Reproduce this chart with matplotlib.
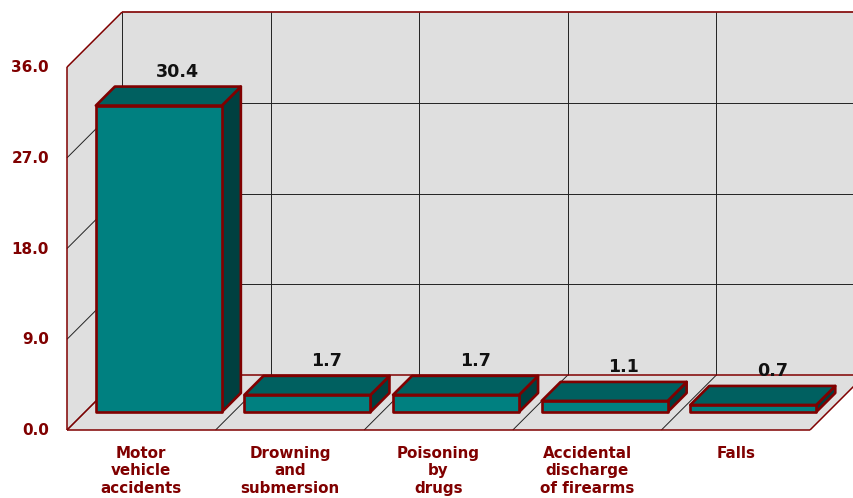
import matplotlib
matplotlib.use("Agg")
import matplotlib.pyplot as plt
from matplotlib.patches import Polygon

categories = ["Motor\nvehicle\naccidents", "Drowning\nand\nsubmersion", "Poisoning\nby\ndrugs",
              "Accidental\ndischarge\nof firearms", "Falls"]
values = [30.4, 1.7, 1.7, 1.1, 0.7]
y_ticks = [0.0, 9.0, 18.0, 27.0, 36.0]

DARK_RED = "#800000"
WALL = "#dfdfdf"

# Pixel size of one category / one value unit, and how far the depth axis shifts things
CAT_PX = 148.6
VAL_PX = 10.08
DEPTH_PX = 55.0

fig = plt.figure(figsize=(8.54, 4.98), dpi=100)
ax = fig.add_axes([0, 0, 1, 1])
ax.set_xlim(-67 / CAT_PX, (854 - 67) / CAT_PX)
ax.set_ylim(-(498 - 430) / VAL_PX, 430 / VAL_PX)
ax.axis("off")


# Oblique projection: category, value, depth (0 front to 1 back) into data coordinates
def proj(c, v, d=0.0):
    return c + d * DEPTH_PX / CAT_PX, v + d * DEPTH_PX / VAL_PX


def face(points, color, edge=DARK_RED, lw=1.0, z=1):
    ax.add_patch(Polygon([proj(*p) for p in points], closed=True, facecolor=color, edgecolor=edge,
                         linewidth=lw, joinstyle="round", zorder=z))


def line(p1, p2, color="#222222", lw=0.7, z=2):
    a, b = proj(*p1), proj(*p2)
    ax.plot([a[0], b[0]], [a[1], b[1]], color=color, linewidth=lw, solid_capstyle="butt", zorder=z)


n = len(categories)
top = y_ticks[-1]

# Walls and floor
face([(0, 0, 1), (n, 0, 1), (n, top, 1), (0, top, 1)], WALL, edge="none")
face([(0, 0, 0), (0, 0, 1), (0, top, 1), (0, top, 0)], WALL, edge="none")
face([(0, 0, 0), (n, 0, 0), (n, 0, 1), (0, 0, 1)], WALL, edge="none")

# Grid on back and side wall
for t in y_ticks[1:-1]:
    line((0, t, 0), (0, t, 1))
    line((0, t, 1), (n, t, 1))
for c in range(n):
    line((c, 0, 0), (c, 0, 1))
    line((c, 0, 1), (c, top, 1))

# Outline of the box
line((0, 0, 0), (0, top, 0), DARK_RED, 1.1)
line((0, top, 0), (0, top, 1), DARK_RED, 1.1)
line((0, top, 1), (n, top, 1), DARK_RED, 1.2)
line((0, 0, 1), (n, 0, 1), DARK_RED, 1.1)
line((0, 0, 0), (n, 0, 0), DARK_RED, 1.1)
line((n, 0, 0), (n, 0, 1), DARK_RED, 1.1)
line((0, 0, 0), (0, 0, 1), DARK_RED, 1.1)

# Bars
bar_w = 126 / CAT_PX
d0, d1 = 18 / DEPTH_PX, 37 / DEPTH_PX
for i, v in enumerate(values):
    x0 = i + (1 - bar_w) / 2 - 0.003
    x1 = x0 + bar_w
    face([(x1, 0, d0), (x1, 0, d1), (x1, v, d1), (x1, v, d0)], "#004040", lw=1.9, z=3)
    face([(x0, v, d0), (x1, v, d0), (x1, v, d1), (x0, v, d1)], "#006060", lw=1.9, z=3)
    face([(x0, 0, d0), (x1, 0, d0), (x1, v, d0), (x0, v, d0)], "#008080", lw=1.9, z=4)
    tx, ty = proj((x0 + x1) / 2, v, d1)
    ax.text(tx, ty + 15 / VAL_PX, f"{v:.1f}", ha="center", va="center", fontsize=12.6,
            fontweight="bold", color="#111111", zorder=5)

# Axis labels
for t in y_ticks:
    ax.text(-18 / CAT_PX, t - 0.05, f"{t:.1f}", ha="right", va="center", fontsize=11,
            fontweight="bold", color=DARK_RED)
for i, label in enumerate(categories):
    ax.text(i + 0.5, -15.5 / VAL_PX, label, ha="center", va="top", fontsize=10.9, fontweight="bold",
            color=DARK_RED, linespacing=1.22)

fig.savefig("out.png", dpi=100)
